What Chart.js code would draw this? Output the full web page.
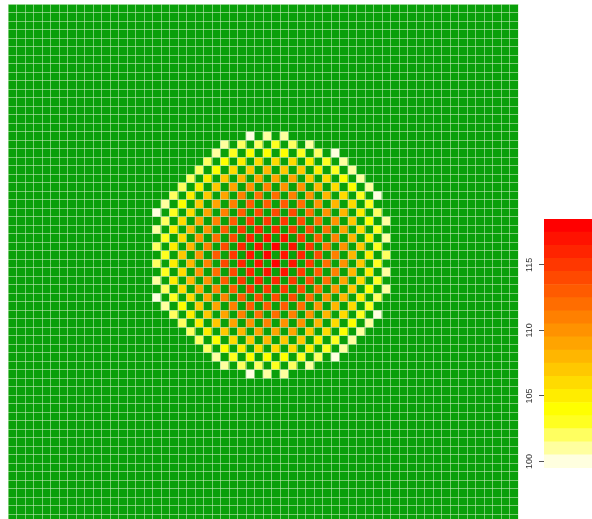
<!DOCTYPE html>
<html>
<head>
<meta charset="utf-8">
<script src="https://cdn.jsdelivr.net/npm/chart.js@4/dist/chart.umd.min.js"></script>
<style>
  html, body { margin: 0; padding: 0; background: #ffffff; overflow: hidden; width: 592px; height: 519px; }
  #heat { position: absolute; left: 0; top: 0; }
  #key  { position: absolute; left: 490px; top: 0; }
</style>
</head>
<body>
<canvas id="heat" width="530" height="540"></canvas>
<canvas id="key" width="120" height="519"></canvas>
<script>
// Field size (columns x rows of cells)
const nCols = 60;
const nRows = 61;

// Cell readings of the disc. Each character is one cell: "." = no reading,
// otherwise the value is 100 + its position in valueCodes.
const valueCodes = "0123456789abcdefghi";
const discRowIndex = [15, 16, 17, 18, 19, 20, 21, 22, 23, 24, 25, 26, 27, 28, 29,
                      30, 31, 32, 33, 34, 35, 36, 37, 38, 39, 40, 41, 42, 43];
const discFirstCol = [28, 25, 24, 23, 22, 21, 20, 19, 18, 17, 18, 17, 18, 17, 18,
                      17, 18, 17, 18, 17, 18, 19, 20, 21, 22, 23, 24, 25, 28];
const discCells = [
  "0.1.1",
  "1.2.2.3.2.1",
  "1.3.4.4.4.3.2.0",
  "2.4.5.6.6.6.5.3.1",
  "2.4.6.7.8.7.7.5.3.1",
  "2.5.7.8.9.9.9.7.6.4.1",
  "2.5.7.9.a.b.a.a.8.6.4.1",
  "2.5.7.9.b.c.c.b.a.8.6.3.0",
  "1.4.7.9.b.d.d.d.c.a.8.6.3",
  "0.3.6.9.b.d.e.e.e.c.a.8.5.2",
  "2.6.9.b.d.f.f.f.e.c.a.7.4.1",
  "1.5.8.a.d.f.g.g.f.e.c.9.6.3",
  "3.6.a.c.e.g.h.h.f.d.b.8.5.1",
  "2.5.8.b.e.g.h.i.h.f.c.a.7.3",
  "3.7.a.d.f.h.i.h.g.e.b.8.5.2",
  "2.5.8.b.e.g.h.i.h.f.c.a.7.3",
  "3.6.a.c.e.g.h.h.f.d.b.8.5.1",
  "1.5.8.a.d.f.g.g.f.e.c.9.6.3",
  "2.6.9.b.d.f.f.f.e.c.a.7.4.1",
  "0.3.6.9.b.d.e.e.e.c.a.8.5.2",
  "1.4.7.9.b.d.d.d.c.a.8.6.3",
  "2.5.7.9.b.c.c.b.a.8.6.3.0",
  "2.5.7.9.a.b.a.a.8.6.4.1",
  "2.5.7.8.9.9.9.7.6.4.1",
  "2.4.6.7.8.7.7.5.3.1",
  "2.4.5.6.6.6.5.3.1",
  "1.3.4.4.4.3.2.0",
  "1.2.2.3.2.1",
  "0.1.1"
];

// Colour key
const keyMin = 100;
const keyMax = 118;
const keyTicks = [100, 105, 110, 115];

// Heat palette, one colour per integer value from keyMin (pale) to keyMax (red)
const heatPalette = [
  "#FFFFDF", "#FFFF9F", "#FFFF60", "#FFFF20", "#FFFF00", "#FFED00", "#FFDB00",
  "#FFC800", "#FFB600", "#FFA400", "#FF9200", "#FF8000", "#FF6D00", "#FF5B00",
  "#FF4900", "#FF3700", "#FF2400", "#FF1200", "#FF0000"
];
const emptyColor = "#0A9F0A";
const lineColor = "rgba(205,236,195,0.55)";

// Build the value matrix
const cells = [];
for (let r = 0; r < nRows; r++) cells.push(new Array(nCols).fill(null));
discRowIndex.forEach((r, i) => {
  const s = discCells[i];
  for (let k = 0; k < s.length; k++) {
    const idx = valueCodes.indexOf(s[k]);
    if (idx >= 0) cells[r][discFirstCol[i] + k] = keyMin + idx;
  }
});

function colorOf(v) {
  if (v === null) return emptyColor;
  const i = Math.max(0, Math.min(heatPalette.length - 1, Math.round(v - keyMin)));
  return heatPalette[i];
}

const colLabels = Array.from({ length: nCols }, (_, c) => String(c + 1));

// One floating-bar dataset per row: every bar spans [row, row + 1]
const heatDatasets = cells.map((rowVals, r) => ({
  data: rowVals.map(() => [r, r + 1]),
  backgroundColor: rowVals.map(colorOf),
  borderWidth: 0,
  grouped: false,
  barPercentage: 1,
  categoryPercentage: 1
}));

new Chart(document.getElementById("heat"), {
  type: "bar",
  data: { labels: colLabels, datasets: heatDatasets },
  options: {
    responsive: false,
    animation: false,
    events: [],
    layout: { padding: { left: 8, top: 4, right: 12, bottom: 540 - 4 - nRows * 8.5 } },
    plugins: { legend: { display: false }, tooltip: { enabled: false } },
    scales: {
      x: {
        type: "category",
        offset: true,
        ticks: { display: false, autoSkip: false },
        grid: { offset: true, color: lineColor, lineWidth: 1, drawTicks: false, z: 1 },
        border: { display: false }
      },
      y: {
        type: "linear",
        min: 0,
        max: nRows,
        reverse: true,
        ticks: { display: false, stepSize: 1, maxTicksLimit: 1000, autoSkip: false },
        grid: { color: lineColor, lineWidth: 1, drawTicks: false, z: 1 },
        border: { display: false }
      }
    }
  }
});

// Colour key: one band per integer value
const keyValues = heatPalette.map((_, i) => keyMin + i);
new Chart(document.getElementById("key"), {
  type: "bar",
  data: {
    labels: ["key"],
    datasets: keyValues.map((v, i) => ({
      data: [[v - 0.5, v + 0.5]],
      backgroundColor: heatPalette[i],
      borderWidth: 0,
      grouped: false,
      barPercentage: 1,
      categoryPercentage: 1
    }))
  },
  options: {
    responsive: false,
    animation: false,
    events: [],
    layout: { padding: { left: 0, top: 219, right: 10, bottom: 51 } },
    plugins: { legend: { display: false }, tooltip: { enabled: false } },
    scales: {
      x: { display: false },
      y: {
        type: "linear",
        position: "left",
        min: keyMin - 0.5,
        max: keyMax + 0.5,
        afterBuildTicks: (axis) => { axis.ticks = keyTicks.map(v => ({ value: v })); },
        afterFit: (axis) => { axis.width = 54; },
        ticks: {
          minRotation: 90,
          maxRotation: 90,
          crossAlign: "center",
          padding: 2,
          color: "#333333",
          font: { family: "Liberation Sans", size: 9 }
        },
        grid: { drawOnChartArea: false, drawTicks: true, tickLength: 5, color: "#555555", lineWidth: 1 },
        border: { display: false }
      }
    }
  }
});
</script>
</body>
</html>
